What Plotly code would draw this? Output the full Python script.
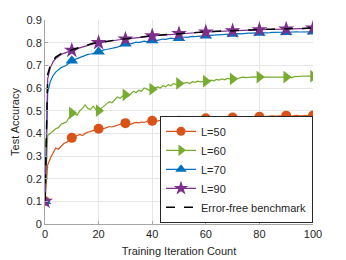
import plotly.graph_objects as go

iterations = list(range(0, 101))

acc_L50 = [0.10, 0.26, 0.29, 0.31, 0.335, 0.33, 0.345, 0.355, 0.36, 0.37,
           0.38, 0.385, 0.39, 0.395, 0.39, 0.40, 0.405, 0.41, 0.412, 0.415,
           0.42, 0.418, 0.42, 0.425, 0.43, 0.428, 0.432, 0.435, 0.44, 0.438,
           0.445, 0.443, 0.44, 0.445, 0.448, 0.446, 0.45, 0.448, 0.452, 0.45,
           0.455, 0.452, 0.455, 0.457, 0.453, 0.456, 0.458, 0.455, 0.452, 0.454,
           0.455, 0.458, 0.46, 0.457, 0.462, 0.46, 0.463, 0.465, 0.462, 0.464,
           0.466, 0.464, 0.467, 0.468, 0.466, 0.469, 0.47, 0.468, 0.471, 0.469,
           0.47, 0.472, 0.47, 0.471, 0.473, 0.472, 0.474, 0.473, 0.472, 0.474,
           0.473, 0.475, 0.474, 0.476, 0.475, 0.477, 0.476, 0.478, 0.477, 0.476,
           0.478, 0.477, 0.476, 0.478, 0.479, 0.477, 0.478, 0.479, 0.478, 0.479,
           0.479]

acc_L60 = [0.10, 0.39, 0.40, 0.41, 0.42, 0.425, 0.44, 0.445, 0.45, 0.47,
           0.49, 0.485, 0.48, 0.50, 0.51, 0.525, 0.51, 0.505, 0.52, 0.505,
           0.50, 0.51, 0.52, 0.53, 0.54, 0.535, 0.55, 0.56, 0.555, 0.565,
           0.57, 0.565, 0.575, 0.585, 0.58, 0.59, 0.585, 0.60, 0.595, 0.59,
           0.595, 0.60, 0.605, 0.60, 0.61, 0.605, 0.615, 0.61, 0.62, 0.615,
           0.62, 0.618, 0.622, 0.625, 0.62, 0.628, 0.625, 0.63, 0.627, 0.63,
           0.63, 0.632, 0.635, 0.632, 0.638, 0.635, 0.64, 0.636, 0.642, 0.64,
           0.64, 0.645, 0.642, 0.646, 0.648, 0.646, 0.648, 0.647, 0.649, 0.648,
           0.648, 0.649, 0.648, 0.649, 0.648, 0.65, 0.649, 0.648, 0.65, 0.649,
           0.648, 0.652, 0.645, 0.65, 0.651, 0.65, 0.652, 0.651, 0.653, 0.652,
           0.652]

acc_L70 = [0.10, 0.58, 0.63, 0.655, 0.67, 0.68, 0.69, 0.695, 0.70, 0.71,
           0.72, 0.725, 0.73, 0.735, 0.74, 0.745, 0.748, 0.75, 0.752, 0.755,
           0.76, 0.765, 0.768, 0.77, 0.772, 0.775, 0.778, 0.78, 0.785, 0.79,
           0.795, 0.797, 0.795, 0.80, 0.802, 0.80, 0.805, 0.807, 0.805, 0.808,
           0.81, 0.812, 0.81, 0.814, 0.816, 0.815, 0.818, 0.82, 0.818, 0.82,
           0.82, 0.822, 0.825, 0.823, 0.826, 0.828, 0.827, 0.829, 0.83, 0.83,
           0.831, 0.832, 0.833, 0.832, 0.835, 0.834, 0.836, 0.835, 0.837, 0.838,
           0.838, 0.839, 0.84, 0.839, 0.841, 0.84, 0.842, 0.842, 0.843, 0.842,
           0.843, 0.844, 0.843, 0.845, 0.844, 0.845, 0.846, 0.845, 0.846, 0.846,
           0.846, 0.847, 0.846, 0.847, 0.848, 0.847, 0.848, 0.848, 0.849, 0.848,
           0.848]

acc_L90 = [0.10, 0.64, 0.69, 0.715, 0.73, 0.74, 0.748, 0.753, 0.758, 0.762,
           0.766, 0.77, 0.774, 0.778, 0.782, 0.786, 0.789, 0.792, 0.795, 0.798,
           0.80, 0.802, 0.804, 0.806, 0.808, 0.81, 0.811, 0.812, 0.814, 0.815,
           0.816, 0.817, 0.819, 0.82, 0.822, 0.823, 0.824, 0.826, 0.827, 0.828,
           0.83, 0.831, 0.832, 0.833, 0.834, 0.835, 0.836, 0.837, 0.838, 0.839,
           0.84, 0.84, 0.841, 0.842, 0.843, 0.843, 0.844, 0.845, 0.846, 0.846,
           0.847, 0.847, 0.848, 0.849, 0.849, 0.85, 0.85, 0.851, 0.851, 0.852,
           0.852, 0.853, 0.853, 0.854, 0.854, 0.855, 0.855, 0.855, 0.856, 0.856,
           0.857, 0.857, 0.857, 0.858, 0.858, 0.859, 0.859, 0.859, 0.86, 0.86,
           0.86, 0.861, 0.861, 0.861, 0.862, 0.862, 0.862, 0.863, 0.863, 0.863,
           0.864]

acc_bench = [0.10, 0.66, 0.70, 0.722, 0.736, 0.745, 0.752, 0.757, 0.761, 0.765,
             0.769, 0.773, 0.777, 0.781, 0.785, 0.788, 0.791, 0.794, 0.797, 0.799,
             0.801, 0.803, 0.805, 0.807, 0.809, 0.811, 0.812, 0.813, 0.815, 0.816,
             0.817, 0.818, 0.82, 0.821, 0.823, 0.824, 0.825, 0.827, 0.828, 0.829,
             0.831, 0.832, 0.833, 0.834, 0.835, 0.836, 0.837, 0.838, 0.839, 0.84,
             0.841, 0.841, 0.842, 0.843, 0.844, 0.844, 0.845, 0.846, 0.847, 0.847,
             0.848, 0.848, 0.849, 0.85, 0.85, 0.851, 0.851, 0.852, 0.852, 0.853,
             0.853, 0.854, 0.854, 0.855, 0.855, 0.856, 0.856, 0.856, 0.857, 0.857,
             0.858, 0.858, 0.858, 0.859, 0.859, 0.86, 0.86, 0.86, 0.861, 0.861,
             0.861, 0.862, 0.862, 0.862, 0.863, 0.863, 0.863, 0.864, 0.864, 0.864,
             0.865]

series_names = ["L=50", "L=60", "L=70", "L=90"]
series_values = [acc_L50, acc_L60, acc_L70, acc_L90]
series_colors = ["#D95319", "#77AC30", "#0072BD", "#7E2F8E"]
series_symbols = ["circle", "triangle-right", "triangle-up", "star"]
series_msize = [10, 11, 11, 12]
marker_step = 10

x_ticks = [0, 20, 40, 60, 80, 100]
y_ticks = [0, 0.1, 0.2, 0.3, 0.4, 0.5, 0.6, 0.7, 0.8, 0.9]

fig = go.Figure()

for name, vals, col, sym, ms in zip(series_names, series_values, series_colors,
                                    series_symbols, series_msize):
    fig.add_trace(go.Scatter(x=iterations, y=vals, mode="lines",
                             line=dict(color=col, width=1.2),
                             showlegend=False, hoverinfo="skip"))
    mx = iterations[::marker_step]
    my = vals[::marker_step]
    fig.add_trace(go.Scatter(x=mx, y=my, mode="markers",
                             marker=dict(symbol=sym, size=ms, color=col,
                                         line=dict(width=0)),
                             showlegend=False))

fig.add_trace(go.Scatter(x=iterations, y=acc_bench, mode="lines",
                         line=dict(color="black", width=1.5, dash="dash"),
                         showlegend=False))

# legend entries
for name, col, sym, ms in zip(series_names, series_colors, series_symbols, series_msize):
    fig.add_trace(go.Scatter(x=[None], y=[None], mode="lines+markers", name=name,
                             line=dict(color=col, width=1.2),
                             marker=dict(symbol=sym, size=ms - 1, color=col)))
fig.add_trace(go.Scatter(x=[None], y=[None], mode="lines", name="Error-free benchmark",
                         line=dict(color="black", width=1.5, dash="dash")))

axis_common = dict(showgrid=True, gridcolor="#E6E6E6", gridwidth=1,
                   zeroline=False, showline=True, linecolor="#A6A6A6", linewidth=1,
                   ticks="inside", ticklen=3, tickcolor="#A6A6A6",
                   tickfont=dict(family="Liberation Sans, Arial", size=11, color="#262626"),
                   mirror=False, automargin=False)

fig.update_layout(
    width=346, height=260,
    margin=dict(l=45, r=33, t=20, b=36, autoexpand=False),
    paper_bgcolor="white", plot_bgcolor="white",
    font=dict(family="Liberation Sans, Arial", size=11, color="#262626"),
    xaxis=dict(range=[0, 100], tickvals=x_ticks,
               title=dict(text="Training Iteration Count", standoff=8,
                          font=dict(size=11, color="#262626")),
               **axis_common),
    yaxis=dict(range=[0, 0.9], tickvals=y_ticks, tickformat="~g",
               title=dict(text="Test Accuracy", standoff=4,
                          font=dict(size=11, color="#262626")),
               **axis_common),
    legend=dict(x=1.0, y=0.006, xanchor="right", yanchor="bottom",
                bgcolor="white", bordercolor="#262626", borderwidth=1,
                font=dict(size=11, color="#262626"),
                itemwidth=30, tracegroupgap=0),
)

fig.write_html("out.html", config={"displayModeBar": False},
               post_script="document.body.style.margin='0px';")
